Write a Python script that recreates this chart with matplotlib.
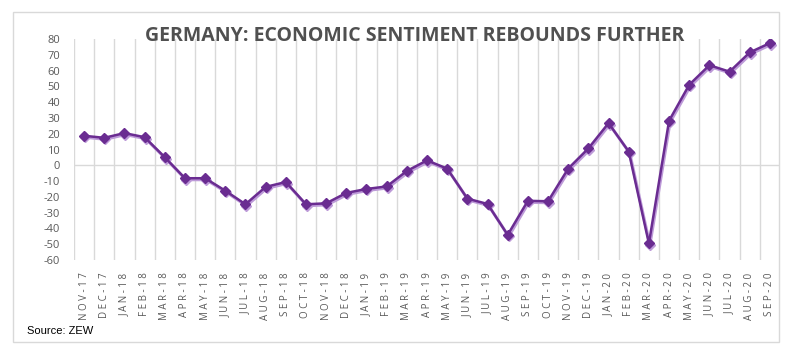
import numpy as np
import matplotlib.pyplot as plt
import matplotlib.transforms as mtransforms
from matplotlib.patches import Rectangle

# ZEW economic sentiment, Germany
months = ['NOV-17', 'DEC-17', 'JAN-18', 'FEB-18', 'MAR-18', 'APR-18', 'MAY-18',
          'JUN-18', 'JUL-18', 'AUG-18', 'SEP-18', 'OCT-18', 'NOV-18', 'DEC-18',
          'JAN-19', 'FEB-19', 'MAR-19', 'APR-19', 'MAY-19', 'JUN-19', 'JUL-19',
          'AUG-19', 'SEP-19', 'OCT-19', 'NOV-19', 'DEC-19', 'JAN-20', 'FEB-20',
          'MAR-20', 'APR-20', 'MAY-20', 'JUN-20', 'JUL-20', 'AUG-20', 'SEP-20']
sentiment = [18.7, 17.4, 20.4, 17.8, 5.1, -8.2, -8.2, -16.1, -24.7, -13.7, -10.6,
             -24.7, -24.1, -17.5, -15.0, -13.4, -3.6, 3.1, -2.1, -21.1, -24.5,
             -44.1, -22.5, -22.8, -2.1, 10.7, 26.7, 8.7, -49.5, 28.2, 51.0, 63.4,
             59.3, 71.5, 77.4]
yticks = list(range(-60, 81, 10))

plt.rcParams['font.family'] = ['Open Sans', 'DejaVu Sans']

fig = plt.figure(figsize=(7.96, 3.56), dpi=100)
ax = fig.add_axes([74 / 796, 1 - 260 / 356, 706 / 796, 221 / 356])

x = np.arange(len(months))

# light "shadow" line a couple of pixels below the main one
shadow = mtransforms.offset_copy(ax.transData, fig=fig, x=1, y=-1.5, units='dots')
ax.plot(x, sentiment, color='#bd9ad8', lw=2.2, marker='D', ms=5.5,
        mec='#bd9ad8', mfc='#bd9ad8', transform=shadow, zorder=3)
ax.plot(x, sentiment, color='#6a2c91', lw=1.8, marker='D', ms=5.5,
        mec='#6a2c91', mfc='#6a2c91', zorder=4)

ax.set_xlim(-0.5, len(months) - 0.5)
ax.set_ylim(-60, 80)
ax.set_yticks(yticks)
ax.set_yticklabels([str(v) for v in yticks], color='#595959', fontsize=8)

# category boundary gridlines like Excel
for b in np.arange(-0.5, len(months), 1.0):
    ax.axvline(b, color='#d9d9d9', lw=1, zorder=1)
ax.axhline(0, color='#d9d9d9', lw=1, zorder=1)

ax.set_xticks(x)
ax.set_xticklabels([' '.join(m) for m in months], rotation=90,
                   color='#595959', fontsize=7)
ax.tick_params(axis='both', length=0)
ax.tick_params(axis='y', pad=10)
ax.tick_params(axis='x', pad=9)
for s in ax.spines.values():
    s.set_visible(False)

fig.text(0.521, 0.899, 'GERMANY: ECONOMIC SENTIMENT REBOUNDS FURTHER',
         ha='center', va='center', fontsize=14, fontweight='bold', color='#505050')
fig.text(27 / 796, 1 - 331 / 356, 'Source: ZEW', ha='left', va='center',
         fontsize=8, family='Liberation Sans', color='black')

fig.add_artist(Rectangle((13 / 796, 1 - 342 / 356), 766 / 796, 330 / 356,
                         transform=fig.transFigure, fill=False,
                         edgecolor='#d9d9d9', lw=1))

fig.savefig('out.png', dpi=100)
